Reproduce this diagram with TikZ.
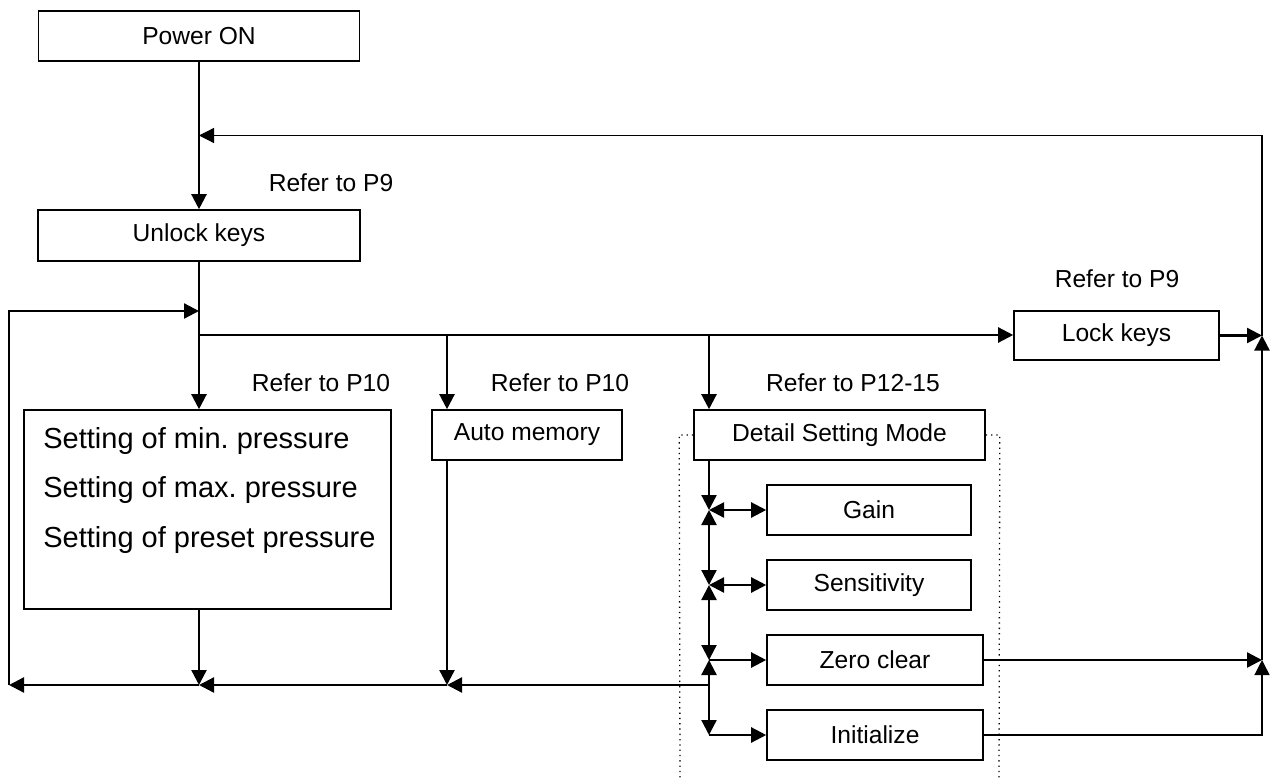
\documentclass[tikz,border=0pt]{standalone}
\usepackage{fontspec}
\setmainfont{Liberation Sans}
\usetikzlibrary{arrows.meta}
\frenchspacing
\begin{document}
\begin{tikzpicture}[x=0.5pt,y=-0.5pt,
  box/.style={draw, line width=0.8pt, inner sep=0pt, font=\fontsize{12.3}{14}\selectfont},
  lbl/.style={inner sep=0pt, font=\fontsize{12.3}{14}\selectfont},
  bigtxt/.style={inner sep=0pt, anchor=base west, font=\fontsize{14.5}{17}\selectfont},
  wire/.style={line width=1.15pt},
  flow/.style={line width=1.15pt, -{Triangle[length=7.5pt,width=7.5pt]}},
  fineflow/.style={line width=0.65pt, -{Triangle[length=7.5pt,width=7.5pt]}},
  both/.style={line width=1.15pt, {Triangle[length=7.5pt,width=7.5pt]}-{Triangle[length=7.5pt,width=7.5pt]}},
  dots/.style={line width=0.65pt, dotted}
]
\useasboundingbox (0,0) rectangle (1272,780);

% boxes
\node[box, minimum width=160.5pt, minimum height=25pt] (power) at (199,36) {Power ON};
\node[box, minimum width=161pt, minimum height=25.5pt] (unlock) at (199,235.5) {Unlock keys};
\node[box, minimum width=102.5pt, minimum height=24.5pt] (lock) at (1116.5,335.5) {Lock keys};
\node[box, minimum width=183.5pt, minimum height=99.5pt] (settings) at (207.5,509.5) {};
\node[box, minimum width=95pt, minimum height=25pt] (auto) at (527,435) {Auto memory};
\node[box, minimum width=145.5pt, minimum height=25pt] (detail) at (839.5,435) {Detail Setting Mode};
\node[box, minimum width=102pt, minimum height=25pt] (gain) at (869,510) {Gain};
\node[box, minimum width=102pt, minimum height=25pt] (sens) at (869,585) {Sensitivity};
\node[box, minimum width=108pt, minimum height=25pt] (zero) at (875,660) {Zero clear};
\node[box, minimum width=108pt, minimum height=25pt] (init) at (875,735) {Initialize};

% settings text
\node[bigtxt] (s1) at (43,448) {Setting of min. pressure};
\node[bigtxt] (s2) at (43,497) {Setting of max. pressure};
\node[bigtxt] (s3) at (43,547) {Setting of preset pressure};

% labels
\node[lbl] (r1) at (331,183) {Refer to P9};
\node[lbl] (r2) at (1117,279) {Refer to P9};
\node[lbl] (r3) at (321,383) {Refer to P10};
\node[lbl] (r4) at (560,383) {Refer to P10};
\node[lbl] (r5) at (853,383) {Refer to P12-15};

% coordinates
\coordinate (jtop) at (199,135.5);
\coordinate (jbr) at (199,335);
\coordinate (ja) at (447,335);
\coordinate (jd) at (709,335);
\coordinate (loopin) at (199,311);
\coordinate (bl) at (9,685);
\coordinate (b1) at (709,685);
\coordinate (b2) at (447,685);
\coordinate (b3) at (199,685);
\coordinate (dg) at (709,510);
\coordinate (ds) at (709,585);
\coordinate (dz) at (709,660);
\coordinate (di) at (709,735);
\coordinate (rz) at (1262,660);
\coordinate (ri) at (1262,735);
\coordinate (rl) at (1262,335.5);
\coordinate (rt) at (1262,135.5);

% dotted frame
\draw[dots] (detail.west) -- ++(-14,0) -- (680,780);
\draw[dots] (detail.east) -- ++(14,0) -- (999,780);

% main column
\draw[flow] (power) -- (unlock);
\draw[wire] (unlock.south) -- (jbr);
\draw[flow] (jbr) -- (jbr |- settings.north);
\draw[flow] (jbr) -- (jbr -| lock.west);
\draw[flow] (ja) -- (ja |- auto.north);
\draw[flow] (jd) -- (jd |- detail.north);

% left loop and bottom return
\draw[flow] (bl) |- (loopin);
\draw[flow] (b3 |- settings.south) -- (b3);
\draw[flow] (b2 |- auto.south) -- (b2);
\draw[flow] (b1) -- (b2);
\draw[flow] (b2) -- (b3);
\draw[flow] (b3) -- (bl);

% detail column
\draw[flow] (jd |- detail.south) -- (dg);
\draw[both] (dg) -- (ds);
\draw[both] (ds) -- (dz);
\draw[both] (dz) -- (di);
\draw[both] (dg) -- (gain.west);
\draw[both] (ds) -- (sens.west);
\draw[flow] (dz) -- (zero.west);
\draw[flow] (di) -- (init.west);

% right return
\draw[flow] (zero.east) -- (rz);
\draw[fineflow] (init.east) -- (ri) -- (rz);
\draw[flow] (rz) -- (rl);
\draw[flow] (lock.east) -- (rl);
\draw[fineflow] (rl) -- (rt) -- (jtop);
\end{tikzpicture}
\end{document}
